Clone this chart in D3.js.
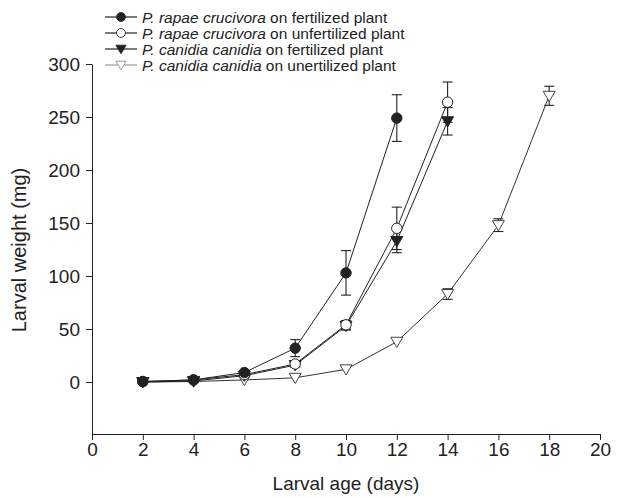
<!DOCTYPE html>
<html>
<head>
<meta charset="utf-8">
<script src="https://cdn.jsdelivr.net/npm/d3@7"></script>
<style>
  body { margin: 0; background: #fff; }
  text { font-family: Arial, "Liberation Sans", sans-serif; fill: #222; }
</style>
</head>
<body>
<div id="chart-area"></div>
<script>
// Data
var series = ["rapaeFert", "rapaeUnfert", "canidiaFert", "canidiaUnfert"];
var labelsItalic = ["P. rapae crucivora", "P. rapae crucivora", "P. canidia canidia", "P. canidia canidia"];
var labelsRest = [" on fertilized plant", " on unfertilized plant", " on fertilized plant", " on unertilized plant"];

var rapaeFertDays = [2, 4, 6, 8, 10, 12];
var rapaeFertWeight = [0.5, 2, 9, 32, 103, 249];
var rapaeFertErr = [0.5, 1, 2, 8, 21, 22];

var rapaeUnfertDays = [2, 4, 6, 8, 10, 12, 14];
var rapaeUnfertWeight = [0.5, 2, 7, 17, 54, 145, 264];
var rapaeUnfertErr = [0.5, 1, 1.5, 3, 4, 20, 19];

var canidiaFertDays = [2, 4, 6, 8, 10, 12, 14];
var canidiaFertWeight = [0, 1, 6, 16, 53, 133, 246];
var canidiaFertErr = [0.5, 0.5, 1, 2, 4, 11, 13];

var canidiaUnfertDays = [2, 4, 6, 8, 10, 12, 14, 16, 18];
var canidiaUnfertWeight = [0, 0.5, 2, 4, 12, 38, 83, 148, 270];
var canidiaUnfertErr = [0.3, 0.3, 0.5, 1, 1.5, 2, 5, 6, 9];

var xTicks = [0, 2, 4, 6, 8, 10, 12, 14, 16, 18, 20];
var yTicks = [0, 50, 100, 150, 200, 250, 300];

var data = {
  rapaeFert: rapaeFertDays.map((d, i) => ({ x: d, y: rapaeFertWeight[i], e: rapaeFertErr[i] })),
  rapaeUnfert: rapaeUnfertDays.map((d, i) => ({ x: d, y: rapaeUnfertWeight[i], e: rapaeUnfertErr[i] })),
  canidiaFert: canidiaFertDays.map((d, i) => ({ x: d, y: canidiaFertWeight[i], e: canidiaFertErr[i] })),
  canidiaUnfert: canidiaUnfertDays.map((d, i) => ({ x: d, y: canidiaUnfertWeight[i], e: canidiaUnfertErr[i] }))
};

var style = {
  rapaeFert: { line: "#222", legendLine: "#222", shape: "circle", fill: "#222", stroke: "#222" },
  rapaeUnfert: { line: "#222", legendLine: "#222", shape: "circle", fill: "#fff", stroke: "#222" },
  canidiaFert: { line: "#222", legendLine: "#222", shape: "tri", fill: "#222", stroke: "#222" },
  canidiaUnfert: { line: "#333", legendLine: "#999", shape: "tri", fill: "#fff", stroke: "#444" }
};

var margin = { left: 92, right: 24, top: 64, bottom: 64 },
    width = 624 - margin.left - margin.right,
    height = 498 - margin.top - margin.bottom;

var svg = d3.select("#chart-area")
  .append("svg")
    .attr("width", 624)
    .attr("height", 498);

var g = svg.append("g")
    .attr("transform", "translate(" + margin.left + "," + margin.top + ")");

var x = d3.scaleLinear().domain([0, 20]).range([0, width]);
var y = d3.scaleLinear().domain([-49, 300]).range([height, 0]);

// Axes
var xAxis = g.append("g")
    .attr("transform", "translate(0," + height + ")")
    .call(d3.axisBottom(x).tickValues(xTicks).tickSize(6).tickPadding(3).tickSizeOuter(0));
var yAxis = g.append("g")
    .call(d3.axisLeft(y).tickValues(yTicks).tickSize(6).tickPadding(6).tickSizeOuter(0));

[xAxis, yAxis].forEach(a => {
  a.select(".domain").attr("stroke", "#222");
  a.selectAll(".tick line").attr("stroke", "#222");
  a.selectAll(".tick text").attr("font-size", "19px").attr("fill", "#222")
    .style("font-family", "Arial, 'Liberation Sans', sans-serif");
});

// Axis labels
svg.append("text")
    .attr("x", margin.left + width / 2)
    .attr("y", 490)
    .attr("text-anchor", "middle")
    .attr("font-size", "19px")
    .text("Larval age (days)");
svg.append("text")
    .attr("transform", "rotate(-90)")
    .attr("x", -250)
    .attr("y", 26)
    .attr("text-anchor", "middle")
    .attr("font-size", "20px")
    .text("Larval weight (mg)");

var triPath = function(s) {
  return "M" + (-s) + "," + (-s * 0.75) + "L" + s + "," + (-s * 0.75) + "L0," + (s * 0.95) + "Z";
};

function drawMarker(sel, st) {
  if (st.shape === "circle") {
    sel.append("circle").attr("r", 5.2)
      .attr("fill", st.fill).attr("stroke", st.stroke).attr("stroke-width", 1);
  } else {
    sel.append("path").attr("d", triPath(6))
      .attr("fill", st.fill).attr("stroke", st.stroke).attr("stroke-width", 1);
  }
}

var line = d3.line().x(d => x(d.x)).y(d => y(d.y));

// draw in reverse so filled circles sit on top
series.slice().reverse().forEach(function(s) {
  var st = style[s];
  var sg = g.append("g");
  sg.append("path")
    .attr("d", line(data[s]))
    .attr("fill", "none")
    .attr("stroke", st.line)
    .attr("stroke-width", 1);
  // error bars
  var eb = sg.selectAll(".err").data(data[s].filter(d => d.e >= 3)).enter().append("g")
    .attr("stroke", "#222").attr("stroke-width", 1.1);
  eb.append("line").attr("x1", d => x(d.x)).attr("x2", d => x(d.x))
    .attr("y1", d => y(d.y + d.e)).attr("y2", d => y(d.y - d.e));
  eb.append("line").attr("x1", d => x(d.x) - 5).attr("x2", d => x(d.x) + 5)
    .attr("y1", d => y(d.y + d.e)).attr("y2", d => y(d.y + d.e));
  eb.append("line").attr("x1", d => x(d.x) - 5).attr("x2", d => x(d.x) + 5)
    .attr("y1", d => y(d.y - d.e)).attr("y2", d => y(d.y - d.e));
  sg.selectAll(".pt").data(data[s]).enter().append("g")
    .attr("transform", d => "translate(" + x(d.x) + "," + y(d.y) + ")")
    .each(function() { drawMarker(d3.select(this), st); });
});

// Legend
var legend = svg.append("g").attr("transform", "translate(105,17)");
series.forEach(function(s, i) {
  var st = style[s];
  var row = legend.append("g").attr("transform", "translate(0," + (i * 16) + ")");
  row.append("line").attr("x1", 0).attr("x2", 32).attr("y1", 0).attr("y2", 0)
    .attr("stroke", st.legendLine).attr("stroke-width", 1.2);
  var m = row.append("g").attr("transform", "translate(16,0) scale(0.85)");
  drawMarker(m, i === 3 ? Object.assign({}, st, { stroke: "#888" }) : st);
  var t = row.append("text").attr("x", 37).attr("y", 5.5).attr("font-size", "15.5px");
  t.append("tspan").attr("font-style", "italic").text(labelsItalic[i]);
  t.append("tspan").text(labelsRest[i]);
});
</script>
</body>
</html>
